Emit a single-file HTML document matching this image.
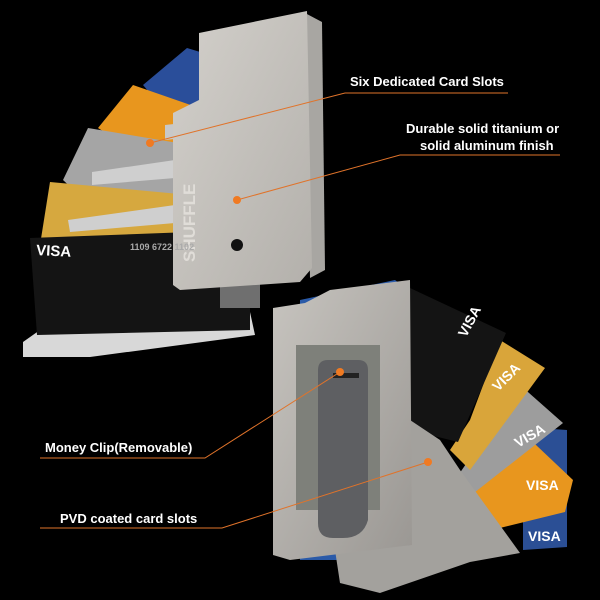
<!DOCTYPE html>
<html><head><meta charset="utf-8"><style>
html,body{margin:0;padding:0;background:#000;}
svg{display:block}
text{font-family:"Liberation Sans",sans-serif;font-weight:bold;fill:#fff;font-size:13px}
</style></head><body>
<svg width="600" height="600" viewBox="0 0 600 600" xmlns="http://www.w3.org/2000/svg">
<defs>
<linearGradient id="ti" x1="0" y1="0" x2="1" y2="1"><stop offset="0" stop-color="#d3d0cb"/><stop offset="1" stop-color="#b3b0ab"/></linearGradient>
<linearGradient id="ti2" x1="0" y1="0" x2="1" y2="1"><stop offset="0" stop-color="#c7c4bf"/><stop offset="1" stop-color="#9a9793"/></linearGradient>
</defs>
<rect width="600" height="600" fill="#000"/>
<!-- top wallet -->
<polygon points="23,342 40,330 250,312 255,335 90,357 23,357" fill="#d8d8d8"/>
<polygon points="143,85 187,48 210,55 210,105 160,105" fill="#2a4e9a"/>
<polygon points="98,128 133,85 205,110 205,155 140,155" fill="#e8961e"/>
<polygon points="63,180 88,128 190,145 190,195 90,205" fill="#a5a5a5"/>
<polygon points="40,245 50,182 190,195 190,245" fill="#d6a83f"/>
<polygon points="30,238 190,232 250,300 250,330 37,335" fill="#141414"/>
<polygon points="165,125 210,120 210,135 165,140" fill="#c8c8c8"/>
<polygon points="92,172 175,160 175,178 92,185" fill="#cfcfcf"/>
<polygon points="68,220 175,205 175,223 70,232" fill="#cfcfcf"/>
<rect x="220" y="280" width="40" height="28" fill="#6f6f6f"/>
<polygon points="305,13 322,22 325,270 310,278" fill="#a8a6a2"/>
<polygon points="199,33 307,11 312,268 300,282 180,290 173,285 173,113 199,100" fill="url(#ti)"/>
<circle cx="237" cy="245" r="6" fill="#111"/>
<text x="195" y="262" transform="rotate(-90 195 262)" style="font-size:17px;fill:#e0ddd8">SHUFFLE</text>
<text x="36" y="255" style="font-size:15px" transform="rotate(3 36 255)">VISA</text>
<text x="130" y="250" style="font-size:9px;fill:#aaa">1109 6722 1102</text>
<!-- bottom wallet -->
<polygon points="300,300 395,280 420,300 420,560 300,560" fill="#2a5aa8"/>
<polygon points="523,427 567,430 567,547 523,550" fill="#2b4f95"/>
<polygon points="517,427 573,480 565,512 463,537 465,470" fill="#e8961e"/>
<polygon points="520,385 563,423 465,500 455,480" fill="#9d9d9d"/>
<polygon points="500,340 545,368 470,470 450,450 470,420" fill="#d9a53a"/>
<polygon points="410,288 506,333 458,442 410,430" fill="#141414"/>
<polygon points="410,420 440,440 460,470 520,553 470,562 380,593 340,583 335,550 410,545" fill="#a3a19d"/>
<polygon points="273,308 305,303 330,290 410,280 412,545 290,560 273,555" fill="url(#ti2)"/>
<rect x="296" y="345" width="84" height="165" fill="#7e807a"/>
<path d="M318,370 q0,-10 10,-10 h30 q10,0 10,10 v150 q-5,18 -25,18 h-10 q-15,0 -15,-15z" fill="#5e5f62"/>
<rect x="333" y="373" width="26" height="5" fill="#222"/>
<text x="466" y="338" style="font-size:14px" transform="rotate(-62 466 338)">VISA</text>
<text x="498" y="392" style="font-size:14px" transform="rotate(-45 498 392)">VISA</text>
<text x="518" y="448" style="font-size:14px" transform="rotate(-30 518 448)">VISA</text>
<text x="526" y="490" style="font-size:14px">VISA</text>
<text x="528" y="541" style="font-size:14px">VISA</text>
<!-- annotations -->
<g stroke="#e0732a" stroke-width="1" fill="none">
<polyline points="150,143 345,93 508,93"/>
<polyline points="237,200 400,155 560,155"/>
<polyline points="40,458 205,458 340,372"/>
<polyline points="40,528 222,528 428,462"/>
</g>
<g fill="#f07a22">
<circle cx="150" cy="143" r="4"/><circle cx="237" cy="200" r="4"/>
<circle cx="340" cy="372" r="4"/><circle cx="428" cy="462" r="4"/>
</g>
<text x="350" y="86">Six Dedicated Card Slots</text>
<text x="406" y="133">Durable solid titanium or</text>
<text x="420" y="150">solid aluminum finish</text>
<text x="45" y="452">Money Clip(Removable)</text>
<text x="60" y="523">PVD coated card slots</text>
</svg>
</body></html>
